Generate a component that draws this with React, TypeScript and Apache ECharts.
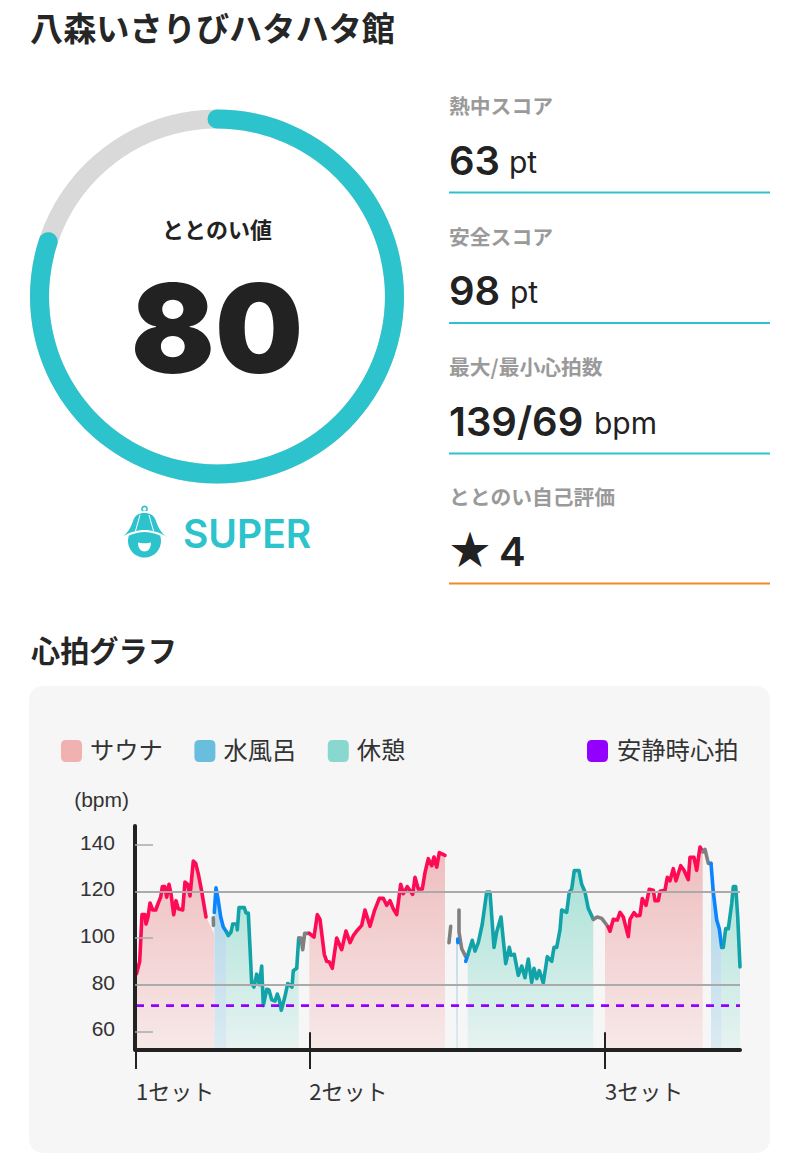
import React, { useEffect, useRef } from "react";
import * as echarts from "echarts";

const facilityName = "八森いさりびハタハタ館";
const gaugeLabel = "ととのい値";
const gaugeValue = 80;
const rankLabel = "SUPER";
const graphTitle = "心拍グラフ";
const metricLabels = ["熱中スコア", "安全スコア", "最大/最小心拍数", "ととのい自己評価"];
const metricValues = ["63", "98", "139/69", "4"];
const metricUnits = ["pt", "pt", "bpm", ""];
const yTicks = [60, 80, 100, 120, 140];
const guideValues = [80, 120];
const restingHeartRate = 71;
const setTicks = [0, 173.3, 469];
const setLabels = ["1セット", "2セット", "3セット"];
const timeMax = 604;

type P = [number, number];
const sauna1: P[] = [[0.5,84.7],[3.7,90],[6,110],[9,110],[10,106],[12,109],[14,115],[16.7,112],[19.7,112],[22.3,115],[24.7,117.5],[26.3,122],[28.7,122],[30.7,117.5],[33,123],[35,119],[37.7,110],[40,116],[42.3,112.5],[46.7,112],[49,124],[51.7,123],[54,118],[57.3,133],[59.7,132],[62.3,127.5],[65.7,120],[70,109]];
const trans1: P[] = [[77.3,108.7],[77.5,105.4]];
const cold1: P[] = [[78.3,111],[80,121.5],[82.3,116],[84.7,109],[87.3,104.7],[90.7,102.5]];
const rest1: P[] = [[90.7,102.5],[92.3,101],[95,102.5],[96.7,106],[100.7,106],[101.3,103.5],[103,113],[108.3,113],[110,110.7],[112.3,110.7],[114,96],[115.7,80.5],[118,79],[120.7,84.5],[123.3,80],[125.7,88],[127.3,71],[130.7,78],[133,77.7],[135.7,73.5],[139,73],[141.3,76],[143.3,73.5],[145.3,69],[149,75],[151.7,80.5],[156,79],[157.3,86],[160.7,87],[162.7,100]];
const trans2: P[] = [[162.7,100],[165,100],[166.7,95],[168.7,102],[171.3,102],[173.3,102]];
const sauna2: P[] = [[173.3,102],[178,100.4],[181.3,110],[184,108],[188.3,93],[190.7,90],[193.3,89.7],[196.3,87],[200.7,100],[205.7,95],[210,103],[214,98],[217.3,101],[220.7,103],[225.7,105.4],[229,112],[234,105],[238.3,111.5],[243.3,117],[247.3,117],[250.7,114],[254,116],[257.3,112.5],[260.7,110],[264.7,123],[267.3,119],[271.3,122],[276.7,118.7],[279,126],[282.3,121],[286.3,121],[289,128],[292.3,134],[295.7,131],[298,134.7],[300.7,130.4],[303.3,136.6],[309,135.4]];
const trans3a: P[] = [[313,98],[314.7,105]];
const trans3b: P[] = [[323,112],[323,102.6],[325.7,95.4],[329.7,92]];
const cold2a: P[] = [[321.7,99.5],[321.9,98]];
const cold2b: P[] = [[329.7,90],[331.7,92.6]];
const rest2: P[] = [[331.7,92.6],[336.3,99],[339,94.4],[342.3,98],[346.3,106],[350.7,119.7],[354,119.7],[358,96],[360.7,102.6],[365,109],[369.7,89],[373.3,96],[375,92.6],[378.3,93],[382.3,84],[385.7,88],[389,83],[392.3,91],[395.7,81],[398,87],[400.7,82.6],[403.3,86],[407.3,80.7],[411.3,92],[415.7,90],[418,96],[420.7,96],[424,103.5],[425.7,112],[430.7,111],[433.3,119.7],[435.7,121],[438.3,128.9],[443,128.9],[445.7,123],[449,119.7],[452.3,112.6],[457.3,108]];
const trans4: P[] = [[457.3,108],[461.3,109],[465.7,108.4],[470,106],[472.3,104.7]];
const sauna3: P[] = [[472.3,104.7],[474,102.9],[477.3,108],[481.3,107.7],[484,111],[487.3,109],[492.3,100.6],[494,108],[498,110.9],[500.7,109.5],[504,109.7],[506.3,116.9],[510,114],[513.3,120.9],[517.3,120.5],[519,116],[522.3,116],[524,120],[529,120.5],[531.3,126],[534,124.5],[537.3,129.7],[540,124.5],[544.7,131],[548,129],[552.3,125],[554,134.6],[558,134.6],[560.7,129],[564,139],[566.7,137]];
const trans5: P[] = [[566.7,137],[569,138],[572.3,132],[575,132]];
const cold3: P[] = [[575,132],[577.3,119.7],[580.7,107.7],[583.3,104],[585.7,96]];
const rest3: P[] = [[585.7,96],[587.3,96],[589.7,104],[592.3,104],[595.7,114.7],[597.3,122],[599.7,122],[601.7,109],[604,87.6]];
const sauna1Area: P[] = [...sauna1, [78, 102]];
const sauna3Area: P[] = [[469, 106], ...sauna3];
const cold2Area: P[] = [[320, 99], [322, 99]];

const C_TEAL = "#2cc3cc";
const grad = (top: string, bottom: string) => ({
  type: "linear", x: 0, y: 845, x2: 0, y2: 1050, global: true,
  colorStops: [{ offset: 0, color: top }, { offset: 1, color: bottom }],
});
const pink = grad("#eebcbd", "#f7e9e9");
const blue = grad("#a4d0e6", "#dcebf2");
const teal = grad("#a0dfd3", "#e7f3f1");

const JP = '"Noto Sans CJK JP"';
const hatPath = "M122 537C128 533 131 527 133 521C135 515 139 513 144.5 513C150 513 154 515 156 521C158 527 161 533 167 537C159 532 152 530 144.5 530C137 530 130 532 122 537Z";
const mouthPath = "M138 542.5C141 543.5 148 543.5 151 542.5C151 548.5 148 551.5 144.5 551.5C141 551.5 138 548.5 138 542.5Z";
echarts.graphic.registerShape("hatLogo", echarts.graphic.extendPath(hatPath, {}) as any);
echarts.graphic.registerShape("mouthLogo", echarts.graphic.extendPath(mouthPath, {}) as any);
const legendIcon = "path://M0 0L0 0M5 6H16Q21 6 21 11V23Q21 28 16 28H5Q0 28 0 23V11Q0 6 5 6Z";

function area(name: string, data: P[], color: any) {
  return { type: "line", name, data, symbol: "none", z: 1, silent: true, lineStyle: { width: 0, opacity: 0 }, areaStyle: { color, opacity: 1 }, itemStyle: { color } };
}
function stroke(name: string, data: P[], color: string) {
  return { type: "line", name, data, symbol: "none", z: 3, silent: true, lineStyle: { width: 3.6, color, join: "round", cap: "round" }, itemStyle: { color } };
}

export default function App() {
  const ref = useRef<HTMLDivElement>(null);
  useEffect(() => {
    const chart = echarts.init(ref.current!, undefined, { renderer: "svg" });
    const rowY = [
      { label: 105, value: 160, line: 192.5 },
      { label: 236, value: 290, line: 323 },
      { label: 366, value: 421, line: 453.5 },
      { label: 496, value: 551, line: 583.5 },
    ];
    const unitX = [509, 510, 594, 0];
    const graphic: any[] = [
      { type: "text", x: 30, y: 26.5, style: { text: facilityName, font: `700 33.2px ${JP}`, fill: "#262626", verticalAlign: "middle" } },
      { type: "text", x: 31, y: 648.5, style: { text: graphTitle, font: `700 29.2px ${JP}`, fill: "#262626", verticalAlign: "middle" } },
      { type: "rect", shape: { x: 29, y: 686, width: 741, height: 467, r: 14 }, style: { fill: "#f6f6f6" } },
      { type: "circle", shape: { cx: 144.5, cy: 541, r: 16.5 }, style: { fill: C_TEAL } },
      { type: "circle", shape: { cx: 144.5, cy: 509, r: 2.6 }, style: { fill: "none", stroke: C_TEAL, lineWidth: 1.6 } },
      { type: "hatLogo", style: { fill: "#ffffff", stroke: "#ffffff", lineWidth: 4 } },
      { type: "hatLogo", style: { fill: C_TEAL } },
      { type: "line", shape: { x1: 140, y1: 515, x2: 135.5, y2: 531 }, style: { stroke: "#ffffff", lineWidth: 1 } },
      { type: "line", shape: { x1: 149, y1: 515, x2: 153.5, y2: 531 }, style: { stroke: "#ffffff", lineWidth: 1 } },
      { type: "mouthLogo", style: { fill: "#ffffff" } },
      { type: "text", x: 183, y: 533, style: { text: rankLabel, font: "600 39px Inter", fill: C_TEAL, verticalAlign: "middle" } },
    ];
    metricLabels.forEach((t, i) => {
      graphic.push({ type: "text", x: 449, y: rowY[i].label, style: { text: t, font: `700 20.8px ${JP}`, fill: "#9a9a9a", verticalAlign: "middle" } });
      graphic.push({ type: "line", shape: { x1: 449, y1: rowY[i].line, x2: 770, y2: rowY[i].line }, style: { stroke: i === 3 ? "#f08a24" : C_TEAL, lineWidth: 2 } });
      if (i < 3) {
        graphic.push({ type: "text", x: 449, y: rowY[i].value, style: { text: metricValues[i], font: "600 40px Inter", fill: "#222222", verticalAlign: "middle" } });
        graphic.push({ type: "text", x: unitX[i], y: rowY[i].value + 2, style: { text: metricUnits[i], font: "400 30px Inter", fill: "#222222", verticalAlign: "middle" } });
      } else {
        graphic.push({ type: "text", x: 450, y: rowY[i].value - 4, style: { text: "★", font: `400 40px ${JP}`, fill: "#222222", verticalAlign: "middle" } });
        graphic.push({ type: "text", x: 499, y: rowY[i].value, style: { text: metricValues[i], font: "600 40px Inter", fill: "#222222", verticalAlign: "middle" } });
      }
    });

    chart.setOption({
      animation: false,
      backgroundColor: "#ffffff",
      graphic,
      legend: [
        {
          left: 61, top: 734, itemWidth: 21, itemHeight: 28, itemGap: 31.5, icon: legendIcon, selectedMode: false, padding: 0,
          textStyle: { fontFamily: JP, fontSize: 24.3, color: "#333333", padding: [0, 0, 0, 3] },
          data: [
            { name: "サウナ", itemStyle: { color: "#f1b1b1" } },
            { name: "水風呂", itemStyle: { color: "#69bede" } },
            { name: "休憩", itemStyle: { color: "#88d8cf" } },
          ],
        },
        {
          left: 587, top: 734, itemWidth: 21, itemHeight: 28, icon: legendIcon, selectedMode: false, padding: 0,
          textStyle: { fontFamily: JP, fontSize: 24.3, color: "#333333", padding: [0, 0, 0, 4] },
          data: [{ name: "安静時心拍", itemStyle: { color: "#9400ff" } }],
        },
      ],
      grid: { left: 136, top: 826, width: timeMax, height: 224, containLabel: false },
      xAxis: {
        type: "value", min: 0, max: timeMax, splitLine: { show: false }, z: 5,
        axisLine: { show: true, onZero: false, lineStyle: { color: "#222222", width: 4 } },
        axisTick: { show: true, customValues: setTicks, length: 19, lineStyle: { color: "#222222", width: 2 } },
        axisLabel: {
          customValues: setTicks, align: "left", margin: 28.5, fontFamily: JP, fontSize: 22, color: "#333333",
          formatter: (v: number) => setLabels[setTicks.indexOf(v)] ?? "",
        },
      },
      yAxis: {
        type: "value", min: 52, max: 148, offset: 1, splitLine: { show: false }, z: 5,
        name: "(bpm)", nameGap: 16, nameTextStyle: { fontFamily: "Liberation Sans", fontSize: 21, color: "#333333", align: "right", padding: [0, 6, 0, 0] },
        axisLine: { show: true, onZero: false, lineStyle: { color: "#222222", width: 4 } },
        axisTick: { show: true, inside: true, customValues: yTicks, length: 18, lineStyle: { color: "#aaaaaa", width: 1.5 } },
        axisLabel: { customValues: yTicks, margin: 20, fontFamily: "Liberation Sans", fontSize: 21, color: "#333333", verticalAlign: "bottom", lineHeight: 5 },
      },
      series: [
        {
          type: "gauge", center: [217, 296.5], radius: 187, startAngle: 90, endAngle: -270, min: 0, max: 100,
          progress: { show: true, width: 19, roundCap: true, itemStyle: { color: C_TEAL } },
          axisLine: { roundCap: false, lineStyle: { width: 19, color: [[1, "#d9d9d9"]] } },
          axisTick: { show: false }, splitLine: { show: false }, axisLabel: { show: false },
          pointer: { show: false }, anchor: { show: false },
          title: { offsetCenter: [0, -69], fontFamily: JP, fontSize: 22, fontWeight: 700, color: "#222222" },
          detail: { offsetCenter: [0, 31], formatter: "{value}", fontFamily: "Inter", fontSize: 124, fontWeight: 900, color: "#222222" },
          data: [{ value: gaugeValue, name: gaugeLabel }],
        },
        area("サウナ", sauna1Area, pink),
        area("水風呂", cold1, blue),
        area("休憩", [...rest1], teal),
        area("サウナ", sauna2, pink),
        area("水風呂", cold2Area, blue),
        area("休憩", rest2, teal),
        area("サウナ", sauna3Area, pink),
        area("水風呂", cold3, blue),
        area("休憩", rest3, teal),
        {
          type: "line", name: "guides", data: [], symbol: "none", z: 2, silent: true,
          markLine: {
            silent: true, symbol: "none", label: { show: false }, animation: false,
            data: [
              ...guideValues.map((v) => ({ yAxis: v, lineStyle: { color: "#aaaaaa", width: 2, type: "solid" } })),
              ...setTicks.slice(1).map((t) => [
                { coord: [t, 59.6], lineStyle: { color: "#222222", width: 2, type: "solid" } },
                { coord: [t, 52] },
              ]),
            ],
          },
        },
        stroke("心拍1", sauna1, "#ff0a54"),
        stroke("心拍2", trans1, "#808080"),
        stroke("心拍3", cold1, "#0a84ff"),
        stroke("心拍4", rest1, "#12a3a8"),
        stroke("心拍5", trans2, "#808080"),
        stroke("心拍6", sauna2, "#ff0a54"),
        stroke("心拍7", trans3a, "#808080"),
        stroke("心拍8", trans3b, "#808080"),
        stroke("心拍9", cold2a, "#0a84ff"),
        stroke("心拍10", cold2b, "#0a84ff"),
        stroke("心拍11", rest2, "#12a3a8"),
        stroke("心拍12", trans4, "#808080"),
        stroke("心拍13", sauna3, "#ff0a54"),
        stroke("心拍14", trans5, "#808080"),
        stroke("心拍15", cold3, "#0a84ff"),
        stroke("心拍16", rest3, "#12a3a8"),
        {
          type: "line", name: "安静時心拍", symbol: "none", z: 4, silent: true,
          data: [[0, restingHeartRate], [timeMax, restingHeartRate]],
          lineStyle: { color: "#9400ff", width: 2.6, type: [8, 7] }, itemStyle: { color: "#9400ff" },
        },
      ],
    });
    return () => chart.dispose();
  }, []);
  return <div ref={ref} style={{ position: "absolute", left: 0, top: 0, width: 800, height: 1160 }} />;
}
